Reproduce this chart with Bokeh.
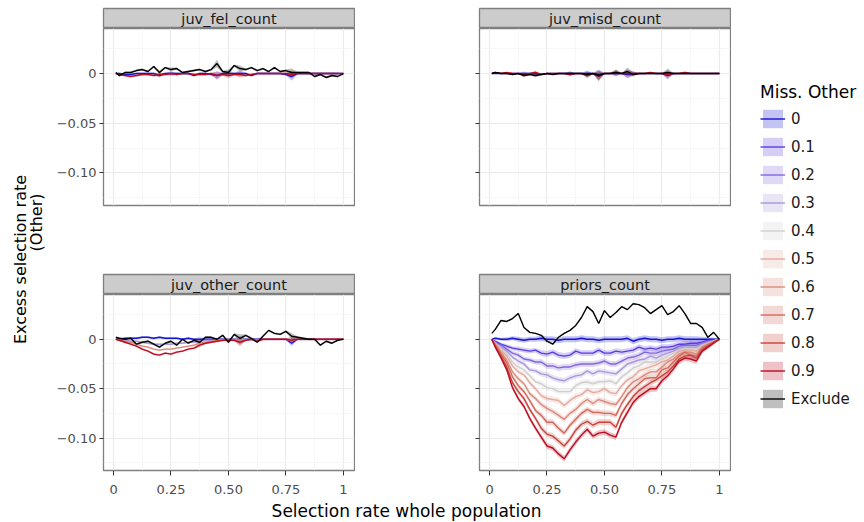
import math
from bokeh.plotting import figure
from bokeh.models import (ColumnDataSource, FixedTicker, Legend, LegendItem, Range1d)
from bokeh.layouts import row, column
from bokeh.embed import file_html
from bokeh.resources import INLINE
from bokeh.core.properties import value

# ---------------- data ----------------
x_vals = [0.01, 0.025, 0.05, 0.075, 0.1, 0.125, 0.15, 0.175, 0.2, 0.225, 0.25,
          0.275, 0.3, 0.325, 0.35, 0.375, 0.4, 0.425, 0.45, 0.475, 0.5, 0.525,
          0.55, 0.575, 0.6, 0.625, 0.65, 0.675, 0.7, 0.725, 0.75, 0.775, 0.8,
          0.825, 0.85, 0.875, 0.9, 0.925, 0.95, 0.975, 1.0]

levels = ["0", "0.1", "0.2", "0.3", "0.4", "0.5", "0.6", "0.7", "0.8", "0.9"]
level_colors = ["#1414d4", "#5a3de0", "#8466dc", "#a898d8", "#cfcfcf",
                "#e3aa9e", "#d98a7b", "#d1695b", "#c7433a", "#bb0b1f"]
exclude_label = "Exclude"

x_ticks = [0, 0.25, 0.5, 0.75, 1]
x_tick_labels = ["0", "0.25", "0.50", "0.75", "1"]
y_ticks = [-0.1, -0.05, 0]
y_tick_labels = ["\u22120.10", "\u22120.05", "0"]

# priors_count
pri_00 = [0, 0.001, 0, 0, 0.001, 0, -0.001, 0, 0, 0.001, 0, 0, -0.001, 0, 0, 0, 0.001, 0, 0, -0.001, 0,
          0, 0, 0, 0.001, -0.002, 0, 0.001, 0, 0, -0.001, 0, 0, 0.001, 0, 0, 0, 0, 0, 0, 0]
pri_10 = [0, -0.002, -0.005, -0.007, -0.009, -0.010, -0.011, -0.012, -0.011, -0.014, -0.015, -0.013, -0.016,
          -0.017, -0.016, -0.012, -0.014, -0.014, -0.014, -0.011, -0.014, -0.014, -0.012, -0.013, -0.012,
          -0.011, -0.008, -0.010, -0.009, -0.010, -0.008, -0.008, -0.007, -0.005, -0.005, -0.004, -0.004,
          -0.003, -0.001, -0.001, 0]
pri_20 = [0, -0.003, -0.006, -0.010, -0.014, -0.016, -0.020, -0.021, -0.023, -0.023, -0.027, -0.027, -0.029,
          -0.028, -0.028, -0.026, -0.025, -0.025, -0.025, -0.024, -0.022, -0.025, -0.025, -0.022, -0.019,
          -0.018, -0.016, -0.013, -0.014, -0.014, -0.012, -0.011, -0.010, -0.007, -0.006, -0.006, -0.006,
          -0.004, -0.002, -0.001, 0]
pri_30 = [0, -0.004, -0.008, -0.012, -0.018, -0.022, -0.025, -0.031, -0.032, -0.035, -0.036, -0.039, -0.041,
          -0.042, -0.039, -0.037, -0.036, -0.032, -0.035, -0.032, -0.033, -0.034, -0.035, -0.030, -0.025,
          -0.023, -0.021, -0.020, -0.017, -0.019, -0.016, -0.014, -0.012, -0.009, -0.008, -0.008, -0.008,
          -0.005, -0.003, -0.002, 0]
pri_40 = [0, -0.004, -0.009, -0.015, -0.023, -0.028, -0.031, -0.037, -0.043, -0.045, -0.049, -0.050, -0.053,
          -0.053, -0.053, -0.047, -0.044, -0.043, -0.045, -0.043, -0.043, -0.042, -0.045, -0.038, -0.034,
          -0.029, -0.027, -0.023, -0.023, -0.023, -0.020, -0.017, -0.014, -0.011, -0.009, -0.010, -0.010,
          -0.006, -0.004, -0.002, 0]
pri_50 = [0, -0.004, -0.011, -0.017, -0.027, -0.033, -0.036, -0.044, -0.050, -0.057, -0.060, -0.061, -0.062,
          -0.067, -0.062, -0.058, -0.056, -0.051, -0.054, -0.053, -0.050, -0.054, -0.055, -0.047, -0.041,
          -0.038, -0.032, -0.030, -0.028, -0.026, -0.023, -0.021, -0.017, -0.012, -0.011, -0.011, -0.012,
          -0.007, -0.004, -0.002, 0]
pri_60 = [0, -0.005, -0.013, -0.021, -0.033, -0.040, -0.045, -0.055, -0.060, -0.066, -0.070, -0.073, -0.077,
          -0.081, -0.075, -0.071, -0.065, -0.061, -0.065, -0.061, -0.063, -0.065, -0.066, -0.058, -0.049,
          -0.043, -0.040, -0.036, -0.033, -0.033, -0.028, -0.023, -0.020, -0.015, -0.013, -0.013, -0.015,
          -0.008, -0.005, -0.003, 0]
pri_70 = [0, -0.006, -0.015, -0.024, -0.038, -0.047, -0.053, -0.062, -0.072, -0.077, -0.084, -0.084, -0.090,
          -0.095, -0.087, -0.081, -0.075, -0.071, -0.074, -0.074, -0.075, -0.075, -0.077, -0.065, -0.056,
          -0.050, -0.045, -0.040, -0.039, -0.039, -0.031, -0.029, -0.023, -0.017, -0.013, -0.016, -0.017,
          -0.009, -0.006, -0.003, 0]
pri_80 = [0, -0.007, -0.017, -0.028, -0.044, -0.053, -0.060, -0.071, -0.080, -0.090, -0.096, -0.098, -0.103,
          -0.108, -0.101, -0.092, -0.086, -0.083, -0.087, -0.084, -0.084, -0.084, -0.089, -0.075, -0.066,
          -0.058, -0.052, -0.048, -0.044, -0.041, -0.037, -0.033, -0.027, -0.020, -0.017, -0.016, -0.019,
          -0.011, -0.007, -0.003, 0]
pri_90 = [0, -0.008, -0.019, -0.031, -0.049, -0.060, -0.068, -0.080, -0.090, -0.099, -0.108, -0.110, -0.116,
          -0.121, -0.112, -0.104, -0.097, -0.091, -0.098, -0.095, -0.094, -0.097, -0.099, -0.084, -0.074,
          -0.064, -0.058, -0.054, -0.050, -0.050, -0.042, -0.037, -0.030, -0.022, -0.019, -0.020, -0.022,
          -0.012, -0.008, -0.004, 0]
pri_ex = [0.006, 0.010, 0.019, 0.018, 0.021, 0.026, 0.012, 0.007, 0.006, 0.004, -0.002, -0.005, 0.002, 0.006,
          0.009, 0.014, 0.022, 0.033, 0.028, 0.016, 0.029, 0.022, 0.027, 0.033, 0.030, 0.036, 0.035, 0.032,
          0.026, 0.030, 0.034, 0.025, 0.028, 0.034, 0.026, 0.016, 0.016, 0.012, 0.002, 0.007, 0.0]
pri_band = [0, 0.001, 0.0015, 0.002, 0.002, 0.0025, 0.0025, 0.0025, 0.0025, 0.003, 0.003, 0.003, 0.003, 0.003,
            0.003, 0.003, 0.003, 0.003, 0.003, 0.003, 0.003, 0.003, 0.003, 0.003, 0.003, 0.003, 0.003, 0.003,
            0.003, 0.003, 0.003, 0.003, 0.003, 0.003, 0.003, 0.003, 0.003, 0.0025, 0.002, 0.0015, 0]
pri_ex_band = [0, 0.0005, 0.0005, 0.0005, 0.0005, 0.0005, 0.0005, 0.0005, 0.0005, 0.0005, 0.0005, 0.0005,
               0.0005, 0.0005, 0.0005, 0.0005, 0.0005, 0.0005, 0.0005, 0.0005, 0.0005, 0.0005, 0.0005, 0.0005,
               0.0005, 0.0005, 0.0005, 0.0005, 0.0005, 0.0005, 0.0005, 0.0005, 0.0005, 0.0005, 0.0005, 0.0005,
               0.0005, 0.0005, 0.0005, 0.0005, 0]

# juv_fel_count
fel_00 = [0, 0, -0.001, -0.001, 0, 0, 0, 0, -0.002, 0, 0, 0, 0, 0, -0.002, 0, 0, -0.001, -0.002, 0, 0,
          0, 0, 0, -0.002, 0, 0, 0, 0, 0, -0.001, -0.003, 0, 0, 0, 0, 0, 0, 0, 0, 0]
fel_90 = [0, -0.001, -0.002, -0.003, -0.002, -0.001, -0.001, -0.002, -0.001, -0.001, 0, -0.001, 0, 0, -0.001,
          -0.001, -0.001, 0, -0.002, -0.001, -0.002, -0.001, -0.001, -0.002, -0.001, 0, 0, 0, 0, 0, 0, -0.001,
          0, 0, 0, 0, 0, 0, 0, 0, 0]
fel_ex = [0.001, -0.002, 0.001, 0.001, 0.003, 0.004, 0.002, 0.007, 0.001, 0.006, 0.004, 0.005, 0.001, 0.002,
          0.003, 0.004, 0.002, 0.004, 0.010, 0.002, 0.001, 0.008, 0.005, 0.004, 0.006, 0.003, 0.005, 0.002,
          0.006, 0.002, 0.003, 0.001, 0.001, 0.001, 0.001, -0.003, -0.001, -0.004, -0.002, -0.003, 0.0]
fel_band = [0, 0.001, 0.001, 0.001, 0.001, 0.001, 0.001, 0.001, 0.002, 0.001, 0.002, 0.001, 0.001, 0.001,
            0.001, 0.001, 0.001, 0.001, 0.004, 0.001, 0.003, 0.001, 0.003, 0.001, 0.001, 0.001, 0.001, 0.001,
            0.001, 0.001, 0.001, 0.004, 0.001, 0.001, 0.001, 0.001, 0.001, 0.001, 0.001, 0.001, 0]

# juv_misd_count
misd_00 = [0, 0, 0, 0, 0, 0, 0, 0, 0, -0.001, 0, 0, 0, 0, 0, 0, 0, 0, 0, -0.001, 0, 0, 0, 0, -0.001, 0, 0,
           0, 0, 0, 0, -0.002, 0, 0, 0, 0, 0, 0, 0, 0, 0]
misd_90 = [0, 0.001, 0, 0.001, 0, 0, -0.001, 0, 0.001, -0.001, 0, 0, 0, 0, -0.001, 0, 0, -0.002, 0, -0.003,
           0, 0, 0.001, 0, 0, 0, 0, 0, 0.001, 0, 0, -0.001, 0, 0, 0.001, 0, 0, 0, 0, 0, 0]
misd_ex = [0, 0.001, 0, 0, -0.001, 0, -0.002, -0.001, -0.002, -0.001, 0, -0.001, 0, 0, 0, 0, 0, -0.001, 0,
           -0.002, 0, 0, 0.001, 0, 0.002, -0.001, 0, 0, 0, 0, 0, 0.001, 0, 0, 0, 0, 0, 0, 0, 0, 0]
misd_band = [0, 0.0005, 0.0005, 0.0005, 0.0005, 0.0005, 0.002, 0.0005, 0.002, 0.0005, 0.0005, 0.0005, 0.0005,
             0.0005, 0.002, 0.0005, 0.0005, 0.003, 0.0005, 0.005, 0.0005, 0.0005, 0.003, 0.0005, 0.004, 0.002,
             0.0005, 0.0005, 0.0005, 0.0005, 0.0005, 0.004, 0.0005, 0.0005, 0.001, 0.0005, 0.0005, 0.0005,
             0.0005, 0.0005, 0]

# juv_other_count
oth_00 = [0, 0, 0.001, 0.001, 0.001, 0.002, 0.002, 0.001, 0.002, 0.001, 0.001, 0.001, 0, 0.001, 0, 0, 0, 0,
          0, 0, 0, 0, -0.001, 0, 0, 0, 0, 0, 0, 0, 0, -0.004, 0, 0, 0, 0, 0, 0, 0, 0, 0]
oth_30 = [0, -0.001, -0.001, -0.002, -0.002, -0.003, -0.004, -0.005, -0.005, -0.005, -0.005, -0.004, -0.004,
          -0.003, -0.003, -0.002, -0.001, -0.001, -0.001, 0, 0, 0, -0.001, 0, 0, -0.001, 0, 0, 0, 0, 0, -0.001,
          0, 0, 0, 0, 0, 0, 0, 0, 0]
oth_60 = [0, -0.001, -0.002, -0.003, -0.005, -0.007, -0.008, -0.010, -0.011, -0.010, -0.010, -0.009, -0.008,
          -0.007, -0.006, -0.004, -0.003, -0.002, -0.001, -0.001, 0, -0.001, -0.002, -0.001, 0, -0.001, 0, 0,
          0, 0, 0, -0.001, 0, 0, 0, 0, 0, 0, 0, 0, 0]
oth_90 = [0, -0.001, -0.003, -0.005, -0.007, -0.010, -0.012, -0.015, -0.016, -0.014, -0.015, -0.013, -0.012,
          -0.010, -0.009, -0.006, -0.004, -0.003, -0.002, -0.001, -0.001, -0.001, -0.003, -0.001, 0, -0.002, 0,
          0, 0, 0, 0, -0.001, 0, 0, 0, 0, 0, 0, 0, 0, 0]
oth_ex = [0.002, 0.001, 0.000, 0.001, -0.005, -0.003, -0.002, -0.005, -0.008, -0.004, -0.002, -0.006, 0.000,
          -0.004, -0.001, -0.003, 0.002, 0.002, 0.000, 0.004, -0.003, 0.005, 0.001, 0.004, 0.001, -0.003, 0.003,
          0.009, 0.006, 0.005, 0.008, 0.003, 0.002, 0.001, 0.000, 0.000, -0.006, -0.002, -0.004, -0.001, 0.0]
oth_band = [0, 0.001, 0.001, 0.001, 0.001, 0.001, 0.001, 0.001, 0.001, 0.001, 0.001, 0.001, 0.001, 0.001,
            0.001, 0.002, 0.001, 0.001, 0.001, 0.001, 0.001, 0.001, 0.004, 0.001, 0.001, 0.001, 0.001, 0.001,
            0.001, 0.001, 0.001, 0.003, 0.001, 0.001, 0.001, 0.001, 0.001, 0.001, 0.001, 0.001, 0]

panels = {
    "juv_fel_count": ({"0": fel_00, "0.9": fel_90}, fel_ex, fel_band, fel_band),
    "juv_misd_count": ({"0": misd_00, "0.9": misd_90}, misd_ex, misd_band, misd_band),
    "juv_other_count": ({"0": oth_00, "0.3": oth_30, "0.6": oth_60, "0.9": oth_90}, oth_ex, oth_band,
                        oth_band),
    "priors_count": ({"0": pri_00, "0.1": pri_10, "0.2": pri_20, "0.3": pri_30, "0.4": pri_40,
                      "0.5": pri_50, "0.6": pri_60, "0.7": pri_70, "0.8": pri_80, "0.9": pri_90},
                     pri_ex, pri_band, pri_ex_band),
}

# ---------------- styling ----------------
FONT = "DejaVu Sans"
X_RANGE = (-0.0436, 1.0484)
Y_RANGE = (-0.1328, 0.0453)
FRAME_W = 251
RIBBON_ALPHA = 0.25
LINE_W = 1.4
color_of = dict(zip(levels, level_colors))
NAN = float("nan")


def style_axes(p, show_x, show_ylabels):
    p.xaxis.ticker = FixedTicker(ticks=x_ticks, minor_ticks=[0.125, 0.375, 0.625, 0.875])
    p.yaxis.ticker = FixedTicker(ticks=y_ticks, minor_ticks=[-0.125, -0.075, -0.025, 0.025])
    p.xaxis.major_label_overrides = dict(zip(x_ticks, x_tick_labels))
    if show_ylabels:
        p.yaxis.major_label_overrides = dict(zip(y_ticks, y_tick_labels))
    else:
        p.yaxis.major_label_overrides = {t: "" for t in y_ticks}
    for ax in (p.xaxis[0], p.yaxis[0]):
        ax.axis_line_color = None
        ax.major_tick_line_color = "#333333"
        ax.major_tick_line_width = 1
        ax.major_tick_in = 0
        ax.major_tick_out = 4
        ax.minor_tick_line_color = None
        ax.major_label_text_font = FONT
        ax.major_label_text_font_size = "13px"
        ax.major_label_text_color = "#4d4d4d"
    p.yaxis.major_label_standoff = 3
    p.xaxis.major_tick_out = 5
    p.xaxis.major_label_standoff = 9
    if not show_x:
        p.xaxis.visible = False
    for g in (p.xgrid[0], p.ygrid[0]):
        g.grid_line_color = "#ebebeb"
        g.grid_line_width = 1.2
        g.minor_grid_line_color = "#f3f3f3"
        g.minor_grid_line_width = 0.7
    p.outline_line_color = "#7f7f7f"
    p.outline_line_width = 1.3
    p.background_fill_color = "white"
    p.border_fill_color = "white"


def ribbon(p, ys, band, color):
    p.varea(x=x_vals, y1=[v - b for v, b in zip(ys, band)], y2=[v + b for v, b in zip(ys, band)],
            fill_color=color, fill_alpha=RIBBON_ALPHA)


def make_panel(name, left_border, height, bottom_border, show_x, show_ylabels):
    series, excl, band, ex_band = panels[name]
    p = figure(width=left_border + FRAME_W + 1, height=height,
               x_range=Range1d(*X_RANGE), y_range=Range1d(*Y_RANGE),
               toolbar_location=None, output_backend="svg",
               min_border_left=left_border, min_border_right=1,
               min_border_top=0, min_border_bottom=bottom_border)
    style_axes(p, show_x, show_ylabels)
    for lv in levels:
        if lv in series:
            ribbon(p, series[lv], band, color_of[lv])
    ribbon(p, excl, ex_band, "black")
    for lv in levels:
        if lv in series:
            p.line(x=x_vals, y=series[lv], line_color=color_of[lv], line_width=LINE_W)
    p.line(x=x_vals, y=excl, line_color="black", line_width=LINE_W)
    return p


def make_strip(name, left_border, height, top_border):
    s = figure(width=left_border + FRAME_W + 1, height=height,
               x_range=Range1d(0, 1), y_range=Range1d(0, 1),
               x_axis_type=None, y_axis_type=None,
               toolbar_location=None, output_backend="svg",
               min_border_left=left_border, min_border_right=1,
               min_border_top=top_border, min_border_bottom=0)
    s.background_fill_color = "#cccccc"
    s.border_fill_color = "white"
    s.outline_line_color = "#7f7f7f"
    s.outline_line_width = 1.3
    s.text(x=[0.5], y=[0.5], text=[name], text_align="center", text_baseline="middle",
           text_font=value(FONT), text_font_size="14.5px", text_color="#1a1a1a")
    return s


YL_W = 48
LB_LEFT, LB_RIGHT = 55, 124
TOTAL_H = 522
TOP_STRIP_H, TOP_PANEL_H = 28, 245
BOT_STRIP_H, BOT_PANEL_H = 21, 205

tl = column(make_strip("juv_fel_count", LB_LEFT, TOP_STRIP_H, 8),
            make_panel("juv_fel_count", LB_LEFT, TOP_PANEL_H, 68, False, True), spacing=0)
tr = column(make_strip("juv_misd_count", LB_RIGHT, TOP_STRIP_H, 8),
            make_panel("juv_misd_count", LB_RIGHT, TOP_PANEL_H, 68, False, False), spacing=0)
bl = column(make_strip("juv_other_count", LB_LEFT, BOT_STRIP_H, 1),
            make_panel("juv_other_count", LB_LEFT, BOT_PANEL_H, 29, True, True), spacing=0)
br = column(make_strip("priors_count", LB_RIGHT, BOT_STRIP_H, 1),
            make_panel("priors_count", LB_RIGHT, BOT_PANEL_H, 29, True, False), spacing=0)

# x axis title
xw = (LB_LEFT + FRAME_W + 1) + (LB_RIGHT + FRAME_W + 1)
XL_H = TOTAL_H - TOP_STRIP_H - TOP_PANEL_H - BOT_STRIP_H - BOT_PANEL_H
xl = figure(width=xw, height=XL_H, x_range=Range1d(0, xw), y_range=Range1d(0, XL_H),
            x_axis_type=None, y_axis_type=None, toolbar_location=None, output_backend="svg",
            min_border=0)
xl.outline_line_color = None
xl.text(x=[406 - YL_W], y=[TOTAL_H - 510], text=["Selection rate whole population"], text_align="center",
        text_baseline="middle", text_font=value(FONT), text_font_size="17px", text_color="black")

# y axis title
yl = figure(width=YL_W, height=TOTAL_H, x_range=Range1d(0, YL_W), y_range=Range1d(0, TOTAL_H),
            x_axis_type=None, y_axis_type=None, toolbar_location=None, output_backend="svg",
            min_border=0)
yl.outline_line_color = None
yl.text(x=[19.5], y=[TOTAL_H - 259], text=["Excess selection rate"], angle=math.pi / 2, text_align="center",
        text_baseline="middle", text_font=value(FONT), text_font_size="16px", text_color="black")
yl.text(x=[36], y=[TOTAL_H - 222], text=["(Other)"], angle=math.pi / 2, text_align="center",
        text_baseline="middle", text_font=value(FONT), text_font_size="16px", text_color="black")

# legend
LF_W = 864 - YL_W - xw
lf = figure(width=LF_W, height=TOTAL_H, x_range=Range1d(0, 1), y_range=Range1d(0, 1),
            x_axis_type=None, y_axis_type=None, toolbar_location=None, output_backend="svg",
            min_border=0)
lf.outline_line_color = None
items = []
for lv, col in zip(levels + [exclude_label], level_colors + ["black"]):
    src = ColumnDataSource(dict(x=[NAN], y=[NAN], y1=[NAN], y2=[NAN]))
    ra = lf.varea(x="x", y1="y1", y2="y2", source=src, fill_color=col, fill_alpha=RIBBON_ALPHA)
    rl = lf.line(x="x", y="y", source=src, line_color=col, line_width=LINE_W)
    items.append(LegendItem(label=value(lv), renderers=[ra, rl]))
leg = Legend(items=items, location=(760 - YL_W - xw, 112), title="Miss. Other",
             title_text_font=FONT, title_text_font_size="17px", title_text_color="black",
             title_text_font_style="normal", title_standoff=5,
             label_text_font=FONT, label_text_font_size="15px", label_text_color="#1a1a1a",
             glyph_width=25, glyph_height=23, label_height=23, label_standoff=6, spacing=5,
             padding=0, margin=0, border_line_color=None, background_fill_alpha=0)
lf.add_layout(leg, "center")

grid = column(row(tl, tr, spacing=0), row(bl, br, spacing=0), xl, spacing=0)
layout = row(yl, grid, lf, spacing=0)

open("out.html", "w").write(file_html(layout, INLINE))
